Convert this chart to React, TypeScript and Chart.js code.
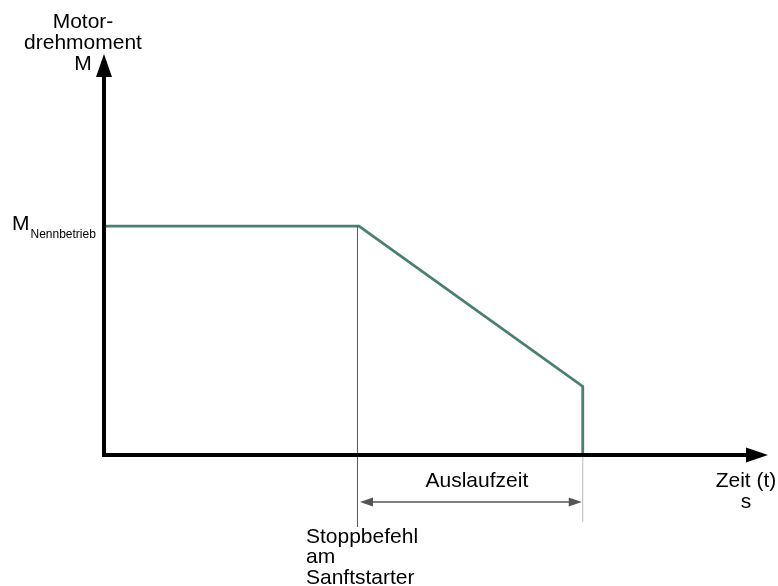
import React, { useEffect, useRef } from "react";
import { Chart, registerables } from "chart.js";

Chart.register(...registerables);

// Schematic data (time in % of axis length, torque in % of axis height)
const timeValues = [0, 38.4, 72.1, 72.1];
const torqueValues = [57.1, 57.1, 17.1, 0];
const stopTime = 38.4;
const endTime = 72.1;
const ratedTorque = 57.1;

const yAxisTitle = ["Motor-", "drehmoment", "M"];
const xAxisTitle = ["Zeit (t)", "s"];
const stopLabel = ["Stoppbefehl", "am", "Sanftstarter"];
const durationLabel = "Auslaufzeit";
const ratedMain = "M";
const ratedSub = "Nennbetrieb";

const FONT = "'Liberation Sans', Arial, sans-serif";

const overlay = {
  id: "schematic",
  afterDatasetsDraw(chart: any) {
    const ctx = chart.ctx as CanvasRenderingContext2D;
    const xs = chart.scales.x;
    const ys = chart.scales.y;
    const x0 = xs.getPixelForValue(0);
    const y0 = ys.getPixelForValue(0);
    const xTop = ys.getPixelForValue(100);
    const xRight = xs.getPixelForValue(100);
    const xStop = xs.getPixelForValue(stopTime);
    const xEnd = xs.getPixelForValue(endTime);
    const yRated = ys.getPixelForValue(ratedTorque);

    ctx.save();
    // guide lines
    ctx.lineWidth = 1;
    ctx.strokeStyle = "#555555";
    ctx.beginPath();
    ctx.moveTo(xStop - 1.5, yRated);
    ctx.lineTo(xStop - 1.5, y0 + 72);
    ctx.stroke();
    ctx.strokeStyle = "#bbbbbb";
    ctx.beginPath();
    ctx.moveTo(xEnd, y0);
    ctx.lineTo(xEnd, y0 + 67);
    ctx.stroke();

    // double arrow
    const ya = y0 + 47;
    const l = xStop + 1;
    const r = xEnd - 1;
    ctx.strokeStyle = "#555555";
    ctx.fillStyle = "#555555";
    ctx.lineWidth = 1.5;
    ctx.beginPath();
    ctx.moveTo(l + 10, ya);
    ctx.lineTo(r - 10, ya);
    ctx.stroke();
    ctx.beginPath();
    ctx.moveTo(l, ya);
    ctx.lineTo(l + 13, ya - 4.5);
    ctx.lineTo(l + 13, ya + 4.5);
    ctx.closePath();
    ctx.fill();
    ctx.beginPath();
    ctx.moveTo(r, ya);
    ctx.lineTo(r - 13, ya - 4.5);
    ctx.lineTo(r - 13, ya + 4.5);
    ctx.closePath();
    ctx.fill();

    // axes
    ctx.strokeStyle = "#000000";
    ctx.fillStyle = "#000000";
    ctx.lineWidth = 4;
    ctx.beginPath();
    ctx.moveTo(x0, y0 + 2);
    ctx.lineTo(x0, xTop + 20);
    ctx.stroke();
    ctx.beginPath();
    ctx.moveTo(x0 - 2, y0);
    ctx.lineTo(xRight - 20, y0);
    ctx.stroke();
    ctx.beginPath();
    ctx.moveTo(x0, xTop);
    ctx.lineTo(x0 - 8, xTop + 23);
    ctx.lineTo(x0 + 8, xTop + 23);
    ctx.closePath();
    ctx.fill();
    ctx.beginPath();
    ctx.moveTo(xRight, y0);
    ctx.lineTo(xRight - 22, y0 - 7.5);
    ctx.lineTo(xRight - 22, y0 + 7.5);
    ctx.closePath();
    ctx.fill();
    ctx.restore();
  },
  afterDraw(chart: any) {
    const ctx = chart.ctx as CanvasRenderingContext2D;
    const xs = chart.scales.x;
    const ys = chart.scales.y;
    const x0 = xs.getPixelForValue(0);
    const y0 = ys.getPixelForValue(0);
    const xStop = xs.getPixelForValue(stopTime);
    const xEnd = xs.getPixelForValue(endTime);
    const yRated = ys.getPixelForValue(ratedTorque);
    ctx.save();
    ctx.fillStyle = "#000000";
    ctx.textBaseline = "middle";
    ctx.font = `21px ${FONT}`;
    ctx.textAlign = "center";
    yAxisTitle.forEach((t, i) => ctx.fillText(t, x0 - 21, 22 + i * 21));
    xAxisTitle.forEach((t, i) => ctx.fillText(t, 746, y0 + 26 + i * 21));
    ctx.fillText(durationLabel, (xStop + xEnd) / 2 + 6, y0 + 26);
    ctx.textAlign = "left";
    stopLabel.forEach((t, i) => ctx.fillText(t, xStop - 53, y0 + 82 + i * 20.5));
    ctx.fillText(ratedMain, 12, yRated - 2);
    const mw = ctx.measureText(ratedMain).width;
    ctx.font = `12px ${FONT}`;
    ctx.fillText(ratedSub, 12 + mw + 1, yRated + 9);
    ctx.restore();
  },
};

export default function App() {
  const ref = useRef<HTMLCanvasElement | null>(null);
  useEffect(() => {
    if (!ref.current) return;
    const chart = new Chart(ref.current, {
      type: "scatter",
      data: {
        datasets: [
          {
            data: timeValues.map((x, i) => ({ x, y: torqueValues[i] })),
            showLine: true,
            borderColor: "#4a8073",
            borderWidth: 2.8,
            pointRadius: 0,
            fill: false,
            clip: false as any,
          },
        ],
      },
      options: {
        animation: false,
        responsive: true,
        maintainAspectRatio: false,
        layout: { padding: { left: 104, right: 10, top: 54, bottom: 131 } },
        plugins: { legend: { display: false }, tooltip: { enabled: false } },
        scales: {
          x: { type: "linear", min: 0, max: 100, display: false },
          y: { type: "linear", min: 0, max: 100, display: false },
        },
      },
      plugins: [overlay],
    });
    return () => chart.destroy();
  }, []);
  return (
    <div style={{ position: "fixed", left: 0, top: 0, width: 778, height: 586, background: "#fff" }}>
      <canvas ref={ref} />
    </div>
  );
}
